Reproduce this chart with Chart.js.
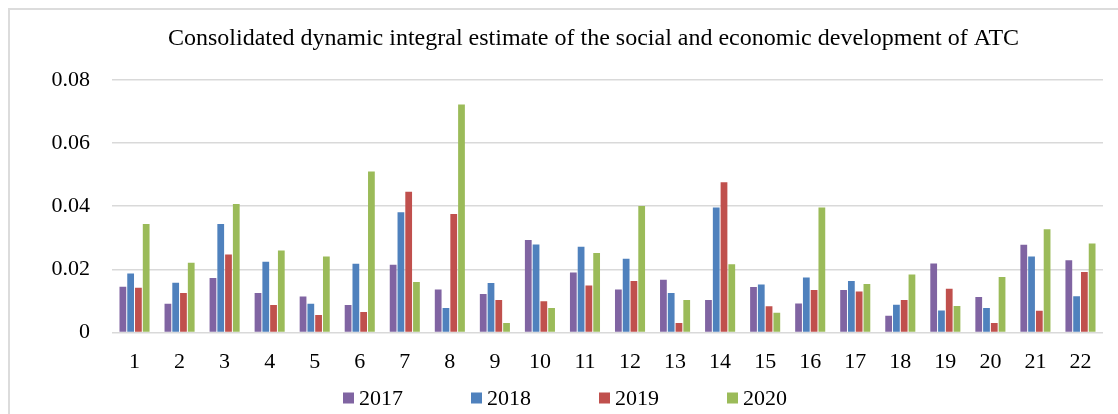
<!DOCTYPE html>
<html>
<head>
<meta charset="utf-8">
<script src="https://cdn.jsdelivr.net/npm/chart.js@4"></script>
<style>
  html, body { margin: 0; padding: 0; background: #fff; overflow: hidden; }
  #frame { position: absolute; left: 8px; top: 8px; width: 1300px; height: 500px; border: 2px solid #dcdcdc; }
  #chart { position: absolute; left: 0; top: 0; }
</style>
</head>
<body>
<div id="frame"></div>
<canvas id="chart" width="1180" height="414"></canvas>
<script>
// ===== Data =====
const categories = ['1','2','3','4','5','6','7','8','9','10','11','12','13','14','15','16','17','18','19','20','21','22'];
const years = ['2017', '2018', '2019', '2020'];
const values2017 = [0.0145, 0.0091, 0.0173, 0.0125, 0.0114, 0.0087, 0.0215, 0.0136, 0.0122, 0.0293, 0.0190,
                    0.0136, 0.0167, 0.0103, 0.0144, 0.0092, 0.0135, 0.0053, 0.0219, 0.0113, 0.0278, 0.0229];
const values2018 = [0.0187, 0.0158, 0.0344, 0.0224, 0.0091, 0.0218, 0.0381, 0.0078, 0.0157, 0.0279, 0.0272,
                    0.0234, 0.0125, 0.0396, 0.0152, 0.0174, 0.0163, 0.0088, 0.0070, 0.0078, 0.0241, 0.0115];
const values2019 = [0.0142, 0.0125, 0.0247, 0.0087, 0.0056, 0.0065, 0.0446, 0.0375, 0.0103, 0.0099, 0.0149,
                    0.0163, 0.0030, 0.0476, 0.0083, 0.0135, 0.0130, 0.0103, 0.0139, 0.0030, 0.0069, 0.0192];
const values2020 = [0.0344, 0.0221, 0.0407, 0.0260, 0.0241, 0.0510, 0.0160, 0.0722, 0.0030, 0.0078, 0.0252,
                    0.0401, 0.0103, 0.0216, 0.0063, 0.0396, 0.0154, 0.0184, 0.0084, 0.0176, 0.0327, 0.0282];
const yTicks = [0, 0.02, 0.04, 0.06, 0.08];

const colors = ['#8064A2', '#4F81BD', '#C0504D', '#9BBB59'];
const FONT = '"Liberation Serif", "Times New Roman", serif';

// ===== Legend (drawn on canvas) =====
const bottomLegend = {
  id: 'bottomLegend',
  afterDraw(chart) {
    const ctx = chart.ctx;
    ctx.save();
    ctx.font = '22px ' + FONT;
    ctx.textBaseline = 'middle';
    const box = 11, gap = 5, space = 68;
    const items = chart.data.datasets.map(d => ({ label: d.label, color: d.backgroundColor, w: box + gap + ctx.measureText(d.label).width }));
    const total = items.reduce((s, it) => s + it.w, 0) + space * (items.length - 1);
    let x = 565 - total / 2;
    const y = 398;
    items.forEach(it => {
      ctx.fillStyle = it.color;
      ctx.fillRect(x, y - box / 2, box, box);
      ctx.fillStyle = '#000';
      ctx.fillText(it.label, x + box + gap, y + 1);
      x += it.w + space;
    });
    ctx.restore();
  }
};

// ===== Chart =====
const series = [values2017, values2018, values2019, values2020];

new Chart(document.getElementById('chart'), {
  type: 'bar',
  data: {
    labels: categories,
    datasets: years.map((y, i) => ({
      label: y,
      data: series[i],
      backgroundColor: colors[i],
      borderWidth: 0,
      categoryPercentage: 0.69,
      barPercentage: 0.87
    }))
  },
  options: {
    responsive: false,
    animation: false,
    layout: { padding: { left: 50, right: 43, bottom: 31, top: 0 } },
    plugins: {
      legend: { display: false },
      tooltip: { enabled: false },
      title: {
        display: true,
        text: 'Consolidated dynamic integral estimate of the social and economic development of ATC',
        color: '#000',
        font: { family: FONT, size: 24, weight: 'normal' },
        padding: { top: 24, bottom: 27 }
      }
    },
    scales: {
      x: {
        grid: { display: false },
        border: { display: false },
        ticks: { color: '#000', font: { family: FONT, size: 22 }, padding: 8 }
      },
      y: {
        min: 0,
        max: 0.08,
        afterFit: s => { s.width = 62; },
        afterBuildTicks: s => { s.ticks = yTicks.map(v => ({ value: v })); },
        grid: { color: '#d9d9d9', lineWidth: 1.6, drawTicks: false },
        border: { display: false },
        ticks: {
          color: '#000',
          font: { family: FONT, size: 22 },
          padding: 22,
          callback: v => v === 0 ? '0' : v.toFixed(2)
        }
      },
      // empty right-hand spacer so the title is centred like the original
      spacer: {
        position: 'right',
        afterFit: s => { s.width = 34; },
        grid: { display: false },
        border: { display: false },
        ticks: { display: false }
      }
    }
  },
  plugins: [bottomLegend]
});
</script>
</body>
</html>
